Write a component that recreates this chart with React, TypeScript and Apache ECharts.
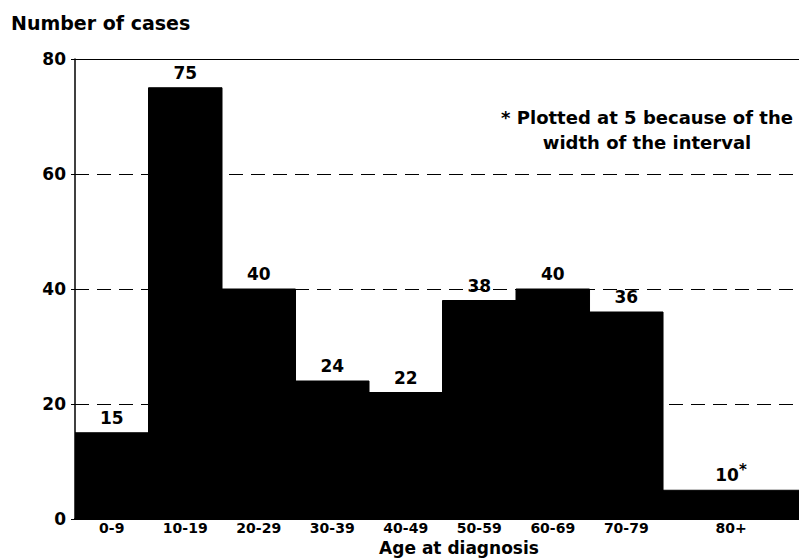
import React, { useEffect, useRef } from "react";
import * as echarts from "echarts";

const ageGroups = ["0-9", "10-19", "20-29", "30-39", "40-49", "50-59", "60-69", "70-79", "80+"];
const binStarts = [0, 10, 20, 30, 40, 50, 60, 70, 80];
const binEnds = [10, 20, 30, 40, 50, 60, 70, 80, 100];
const caseCounts = [15, 75, 40, 24, 22, 38, 40, 36, 10];
const plottedHeights = [15, 75, 40, 24, 22, 38, 40, 36, 5];
const countMarks = ["", "", "", "", "", "", "", "", "*"];
const yTicks = [0, 20, 40, 60, 80];

const FONT = "DejaVu Sans";
const X_MAX = 98.5;

export default function App() {
  const ref = useRef<HTMLDivElement>(null);
  useEffect(() => {
    if (!ref.current) return;
    const chart = echarts.init(ref.current, null, { renderer: "svg" });
    const mids = binStarts.map((s, i) => (s + Math.min(binEnds[i], X_MAX)) / 2);
    const data = binStarts.map((s, i) => [s, binEnds[i], plottedHeights[i], i]);
    chart.setOption({
      animation: false,
      backgroundColor: "#fff",
      title: {
        text: "Number of cases",
        left: 6,
        top: 8,
        textStyle: { fontFamily: FONT, fontWeight: "bold", fontSize: 19, color: "#000" },
      },
      grid: { left: 75, right: 0, top: 59, bottom: 40, outerBoundsMode: "none", containLabel: false },
      xAxis: [
        {
          type: "value",
          min: 0,
          max: X_MAX,
          axisLine: { show: true, lineStyle: { color: "#000", width: 2 } },
          axisTick: { show: false },
          splitLine: { show: false },
          name: "Age at diagnosis",
          nameLocation: "middle",
          nameGap: 20,
          nameMoveOverlap: false,
          nameTextStyle: { fontFamily: FONT, fontWeight: "bold", fontSize: 17, lineHeight: 17, color: "#000", padding: [0, 0, 0, 44] },
          axisLabel: {
            customValues: mids,
            margin: 2,
            fontFamily: FONT,
            fontWeight: "bold",
            fontSize: 14,
            lineHeight: 14,
            color: "#000",
            formatter: (v: number) => {
              const i = mids.findIndex((m) => Math.abs(m - v) < 1e-6);
              return i >= 0 ? ageGroups[i] : "";
            },
          },
        },
        {
          type: "value",
          position: "top",
          min: 0,
          max: X_MAX,
          axisLine: { show: true, lineStyle: { color: "#000", width: 1 } },
          axisTick: { show: false },
          axisLabel: { show: false },
          splitLine: { show: false },
        },
      ],
      yAxis: {
        type: "value",
        min: 0,
        max: 80,
        interval: 20,
        axisLine: { show: true, lineStyle: { color: "#000", width: 1.5 } },
        axisTick: { show: true, length: 4, lineStyle: { color: "#000" } },
        axisLabel: {
          margin: 9,
          fontFamily: FONT,
          fontWeight: "bold",
          fontSize: 17,
          color: "#000",
          formatter: (v: number) => (yTicks.includes(v) ? String(v) : ""),
        },
        splitLine: { show: true, lineStyle: { color: "#000", type: [14, 8], width: 1 } },
      },
      graphic: [
        {
          type: "text",
          x: 647,
          y: 129.5,
          style: {
            text: "* Plotted at 5 because of the\nwidth of the interval",
            fontFamily: FONT,
            fontWeight: "bold",
            fontSize: 18,
            lineHeight: 25,
            fill: "#000",
            align: "center",
            verticalAlign: "middle",
          },
        },
      ],
      series: [
        {
          type: "custom",
          clip: true,
          data,
          renderItem: (params: any, api: any) => {
            const s = api.value(0);
            const e = api.value(1);
            const v = api.value(2);
            const idx = params.dataIndex;
            const p0 = api.coord([s, v]);
            const p1 = api.coord([e, 0]);
            const visEnd = api.coord([Math.min(e, X_MAX), 0]);
            const cx = (p0[0] + visEnd[0]) / 2;
            const mark = countMarks[idx];
            return {
              type: "group",
              children: [
                {
                  type: "rect",
                  shape: { x: p0[0], y: p0[1], width: p1[0] - p0[0], height: p1[1] - p0[1] },
                  style: { fill: "#000", stroke: "#000", lineWidth: 1 },
                },
                {
                  type: "text",
                  x: cx,
                  y: p0[1] - 15,
                  style: {
                    text: mark ? `${caseCounts[idx]}{s|${mark}}` : String(caseCounts[idx]),
                    rich: { s: { fontFamily: FONT, fontWeight: "bold", fontSize: 15, verticalAlign: "top", padding: [0, 0, 10, 0] } },
                    fontFamily: FONT,
                    fontWeight: "bold",
                    fontSize: 17,
                    fill: "#000",
                    align: "center",
                    verticalAlign: "middle",
                  },
                },
              ],
            };
          },
        },
      ],
    });
    return () => chart.dispose();
  }, []);
  return <div ref={ref} style={{ position: "fixed", left: 0, top: 0, width: 799, height: 559 }} />;
}
